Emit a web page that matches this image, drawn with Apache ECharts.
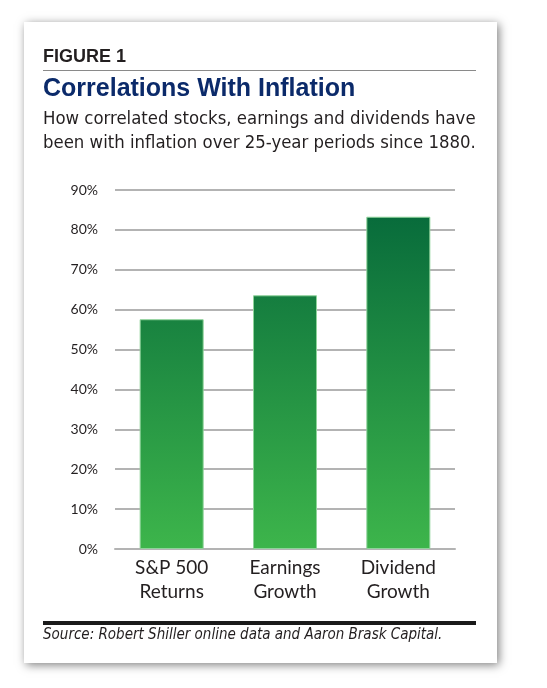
<!DOCTYPE html>
<html>
<head>
<meta charset="utf-8">
<script src="https://cdn.jsdelivr.net/npm/echarts@6/dist/echarts.min.js"></script>
<style>
  html, body { margin: 0; padding: 0; background: #fff; }
  #chart { width: 547px; height: 688px; }
</style>
</head>
<body>
<div id="chart"></div>
<script>
// categories and values
var categories = ['S&P 500\nReturns', 'Earnings\nGrowth', 'Dividend\nGrowth'];
var correlations = [57.6, 63.6, 83.3];
var yTicks = [0, 10, 20, 30, 40, 50, 60, 70, 80, 90];

var chart = echarts.init(document.getElementById('chart'));

// gradient spans the whole plot height, so taller bars get darker tops
var barFill = new echarts.graphic.LinearGradient(0, 190, 0, 549, [
  { offset: 0, color: '#04663a' },
  { offset: 1, color: '#3db54b' }
], true);

var condensed = '"DejaVu Sans Condensed", "Liberation Sans Narrow", sans-serif';

var option = {
  backgroundColor: '#fff',
  animation: false,
  grid: { left: 115, right: 92, top: 190, bottom: 139 },
  graphic: [
    { // card with drop shadow
      type: 'rect', z: -10,
      shape: { x: 24, y: 22, width: 473, height: 641 },
      style: { fill: '#fff', shadowBlur: 9, shadowOffsetX: 2, shadowOffsetY: 2, shadowColor: 'rgba(0,0,0,0.5)' }
    },
    {
      type: 'text', left: 43, top: 48,
      style: { text: 'FIGURE 1', fill: '#231f20', font: 'bold 18px "Liberation Sans", Arial, sans-serif' }
    },
    {
      type: 'rect',
      shape: { x: 43, y: 70, width: 433, height: 1 },
      style: { fill: '#8a8a8a' }
    },
    {
      type: 'text', left: 43, top: 77,
      style: { text: 'Correlations With Inflation', fill: '#0b2a6a', font: 'bold 25px "Liberation Sans", Arial, sans-serif' }
    },
    {
      type: 'text', left: 43, top: 107,
      style: {
        text: 'How correlated stocks, earnings and dividends have\nbeen with inflation over 25-year periods since 1880.',
        fill: '#231f20', lineHeight: 24,
        font: '18.4px ' + condensed
      }
    },
    {
      type: 'rect',
      shape: { x: 43, y: 621, width: 433, height: 4 },
      style: { fill: '#1a1a1a' }
    },
    {
      type: 'text', left: 43, top: 628,
      style: {
        text: 'Source: Robert Shiller online data and Aaron Brask Capital.',
        fill: '#231f20',
        font: 'italic 15px ' + condensed
      }
    }
  ],
  xAxis: {
    type: 'category',
    data: categories,
    axisLine: { lineStyle: { color: '#b3b3b3', width: 2 } },
    axisTick: { show: false },
    axisLabel: {
      color: '#231f20', fontSize: 19, lineHeight: 24, margin: 7,
      fontFamily: 'Lato, "Open Sans", sans-serif'
    }
  },
  yAxis: {
    type: 'value',
    min: yTicks[0],
    max: yTicks[yTicks.length - 1],
    interval: 10,
    axisLine: { show: false },
    axisTick: { show: false },
    splitLine: { lineStyle: { color: '#b3b3b3', width: 2 } },
    axisLabel: {
      color: '#231f20', fontSize: 14, margin: 17,
      fontFamily: 'Lato, "Open Sans", sans-serif',
      formatter: '{value}%'
    }
  },
  series: [{
    type: 'bar',
    data: correlations,
    barWidth: 64,
    itemStyle: { color: barFill, borderColor: '#8fd39a', borderWidth: 1 }
  }]
};

chart.setOption(option);
</script>
</body>
</html>
